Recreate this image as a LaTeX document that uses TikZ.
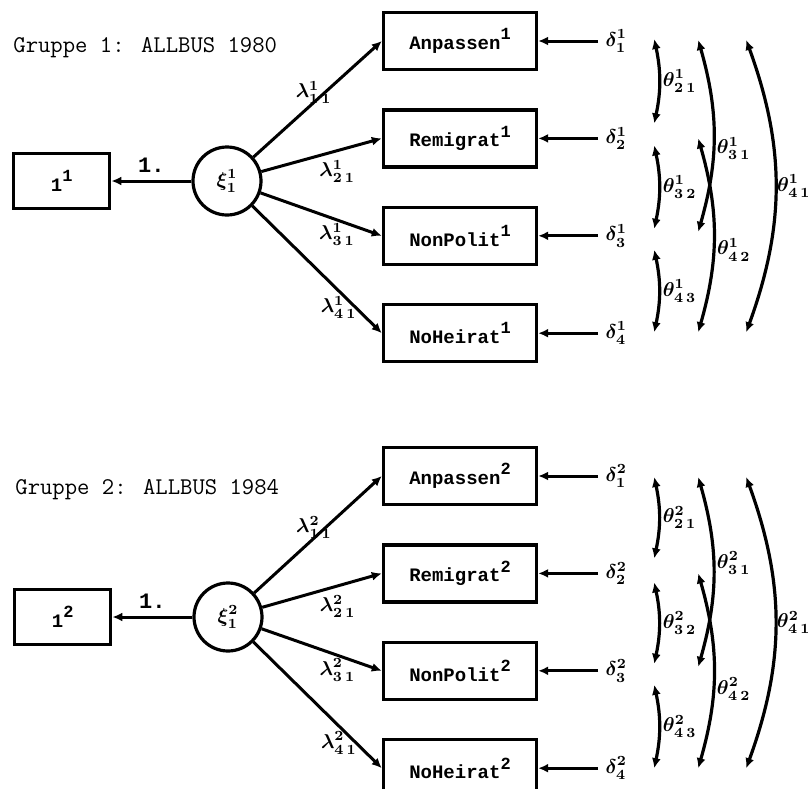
\documentclass[tikz,border=0pt]{standalone}
\usepackage{fontspec}
\newfontfamily\boxfont{Liberation Mono}
\newcommand{\boxsup}[1]{\raisebox{0.5em}{\fontsize{8.5}{9}\selectfont#1}}
\usetikzlibrary{positioning}
\usetikzlibrary{calc}
\usetikzlibrary{arrows.meta}

\begin{document}
\begin{tikzpicture}
    [x=0.5pt, y=-0.5pt,
     >={Latex[length=5pt, width=4.5pt]},
     varBox/.style={rectangle, draw=black, line width=1.7pt, minimum width=76.5pt, minimum height=28.5pt, inner sep=2pt, font=\boxfont\bfseries\fontsize{9.5}{11}\selectfont},
     constBox/.style={varBox, minimum width=48pt, minimum height=27.5pt},
     latentVar/.style={circle, draw=black, line width=1.6pt, minimum size=34pt, inner sep=0pt, font=\boldmath},
     errLabel/.style={inner sep=3.5pt, font=\boldmath},
     parLabel/.style={inner sep=1pt, font=\boldmath},
     groupTitle/.style={anchor=west, inner sep=0pt, font=\ttfamily\fontsize{12}{14}\selectfont},
     loading/.style={->, line width=1.5pt},
     covArrow/.style={<->, line width=1.6pt},
    ]

    \useasboundingbox (0,0) rectangle (811,789);

    % Gruppe 1
    \node[groupTitle] (title1) at (13,48) {Gruppe 1: ALLBUS 1980};

    \node[latentVar] (xi1) at (227,181) {$\xi^1_1$};
    \node[constBox] (one1) [left=40pt of xi1] {1\boxsup{1}};
    \draw[loading] (xi1) -- node[above, font=\boxfont\bfseries\fontsize{11}{12}\selectfont] {1.} (one1);

    \node[varBox] (anp1) at (460,41) {Anpassen\boxsup{1}};
    \node[varBox] (rem1) [below=18.5pt of anp1] {Remigrat\boxsup{1}};
    \node[varBox] (non1) [below=18.5pt of rem1] {NonPolit\boxsup{1}};
    \node[varBox] (noh1) [below=18.5pt of non1] {NoHeirat\boxsup{1}};

    \draw[loading] (xi1) -- node[parLabel, midway, above, inner sep=0pt, xshift=-2pt, yshift=-3pt] {$\lambda^1_{1\,1}$} (anp1.west);
    \draw[loading] (xi1) -- node[parLabel, pos=0.63, below, inner sep=4pt] {$\lambda^1_{2\,1}$} (rem1.west);
    \draw[loading] (xi1) -- node[parLabel, pos=0.63, below, inner sep=1pt] {$\lambda^1_{3\,1}$} (non1.west);
    \draw[loading] (xi1) -- node[parLabel, pos=0.8, left, xshift=2pt] {$\lambda^1_{4\,1}$} (noh1.west);

    \node[errLabel] (d11) [right=30pt of anp1] {$\delta^1_1$};
    \node[errLabel] (d12) [right=30pt of rem1] {$\delta^1_2$};
    \node[errLabel] (d13) [right=30pt of non1] {$\delta^1_3$};
    \node[errLabel] (d14) [right=30pt of noh1] {$\delta^1_4$};
    \draw[loading] (d11) -- (anp1);
    \draw[loading] (d12) -- (rem1);
    \draw[loading] (d13) -- (non1);
    \draw[loading] (d14) -- (noh1);

    \draw[covArrow] ($(d11)+(38,-2)$) to[bend left=12] node[parLabel, right] {$\theta^1_{2\,1}$} ($(d12)+(38,-15)$);
    \draw[covArrow] ($(d12)+(38,7)$) to[bend left=12] node[parLabel, right] {$\theta^1_{3\,2}$} ($(d13)+(38,-7)$);
    \draw[covArrow] ($(d13)+(38,14)$) to[bend left=12] node[parLabel, right] {$\theta^1_{4\,3}$} ($(d14)+(38,-1)$);
    \draw[covArrow] ($(d11)+(82,-1)$) to[bend left=16] node[parLabel, pos=0.57, right] {$\theta^1_{3\,1}$} ($(d13)+(82,-4)$);
    \draw[covArrow] ($(d12)+(82,0)$) to[bend left=16] node[parLabel, pos=0.58, right] {$\theta^1_{4\,2}$} ($(d14)+(82,-1)$);
    \draw[covArrow] ($(d11)+(130,-1)$) to[bend left=20] node[parLabel, right, inner sep=0pt] {$\theta^1_{4\,1}$} ($(d14)+(130,-1)$);

    % Gruppe 2
    \node[groupTitle] (title2) at (15,490) {Gruppe 2: ALLBUS 1984};

    \node[latentVar] (xi2) at (228,617) {$\xi^2_1$};
    \node[constBox] (one2) [left=40pt of xi2] {1\boxsup{2}};
    \draw[loading] (xi2) -- node[above, font=\boxfont\bfseries\fontsize{11}{12}\selectfont] {1.} (one2);

    \node[varBox] (anp2) at (460,476) {Anpassen\boxsup{2}};
    \node[varBox] (rem2) [below=18.5pt of anp2] {Remigrat\boxsup{2}};
    \node[varBox] (non2) [below=18.5pt of rem2] {NonPolit\boxsup{2}};
    \node[varBox] (noh2) [below=18.5pt of non2] {NoHeirat\boxsup{2}};

    \draw[loading] (xi2) -- node[parLabel, midway, above, inner sep=0pt, xshift=-2pt, yshift=-3pt] {$\lambda^2_{1\,1}$} (anp2.west);
    \draw[loading] (xi2) -- node[parLabel, pos=0.63, below, inner sep=4pt] {$\lambda^2_{2\,1}$} (rem2.west);
    \draw[loading] (xi2) -- node[parLabel, pos=0.63, below, inner sep=1pt] {$\lambda^2_{3\,1}$} (non2.west);
    \draw[loading] (xi2) -- node[parLabel, pos=0.8, left, xshift=2pt] {$\lambda^2_{4\,1}$} (noh2.west);

    \node[errLabel] (d21) [right=30pt of anp2] {$\delta^2_1$};
    \node[errLabel] (d22) [right=30pt of rem2] {$\delta^2_2$};
    \node[errLabel] (d23) [right=30pt of non2] {$\delta^2_3$};
    \node[errLabel] (d24) [right=30pt of noh2] {$\delta^2_4$};
    \draw[loading] (d21) -- (anp2);
    \draw[loading] (d22) -- (rem2);
    \draw[loading] (d23) -- (non2);
    \draw[loading] (d24) -- (noh2);

    \draw[covArrow] ($(d21)+(38,1)$) to[bend left=12] node[parLabel, right] {$\theta^2_{2\,1}$} ($(d22)+(38,-15)$);
    \draw[covArrow] ($(d22)+(38,9)$) to[bend left=12] node[parLabel, right] {$\theta^2_{3\,2}$} ($(d23)+(38,-7)$);
    \draw[covArrow] ($(d23)+(38,14)$) to[bend left=12] node[parLabel, right] {$\theta^2_{4\,3}$} ($(d24)+(38,0)$);
    \draw[covArrow] ($(d21)+(82,1)$) to[bend left=16] node[parLabel, pos=0.45, right] {$\theta^2_{3\,1}$} ($(d23)+(82,-4)$);
    \draw[covArrow] ($(d22)+(82,0)$) to[bend left=16] node[parLabel, pos=0.6, right] {$\theta^2_{4\,2}$} ($(d24)+(82,0)$);
    \draw[covArrow] ($(d21)+(130,1)$) to[bend left=20] node[parLabel, right, inner sep=0pt] {$\theta^2_{4\,1}$} ($(d24)+(130,0)$);

\end{tikzpicture}
\end{document}
